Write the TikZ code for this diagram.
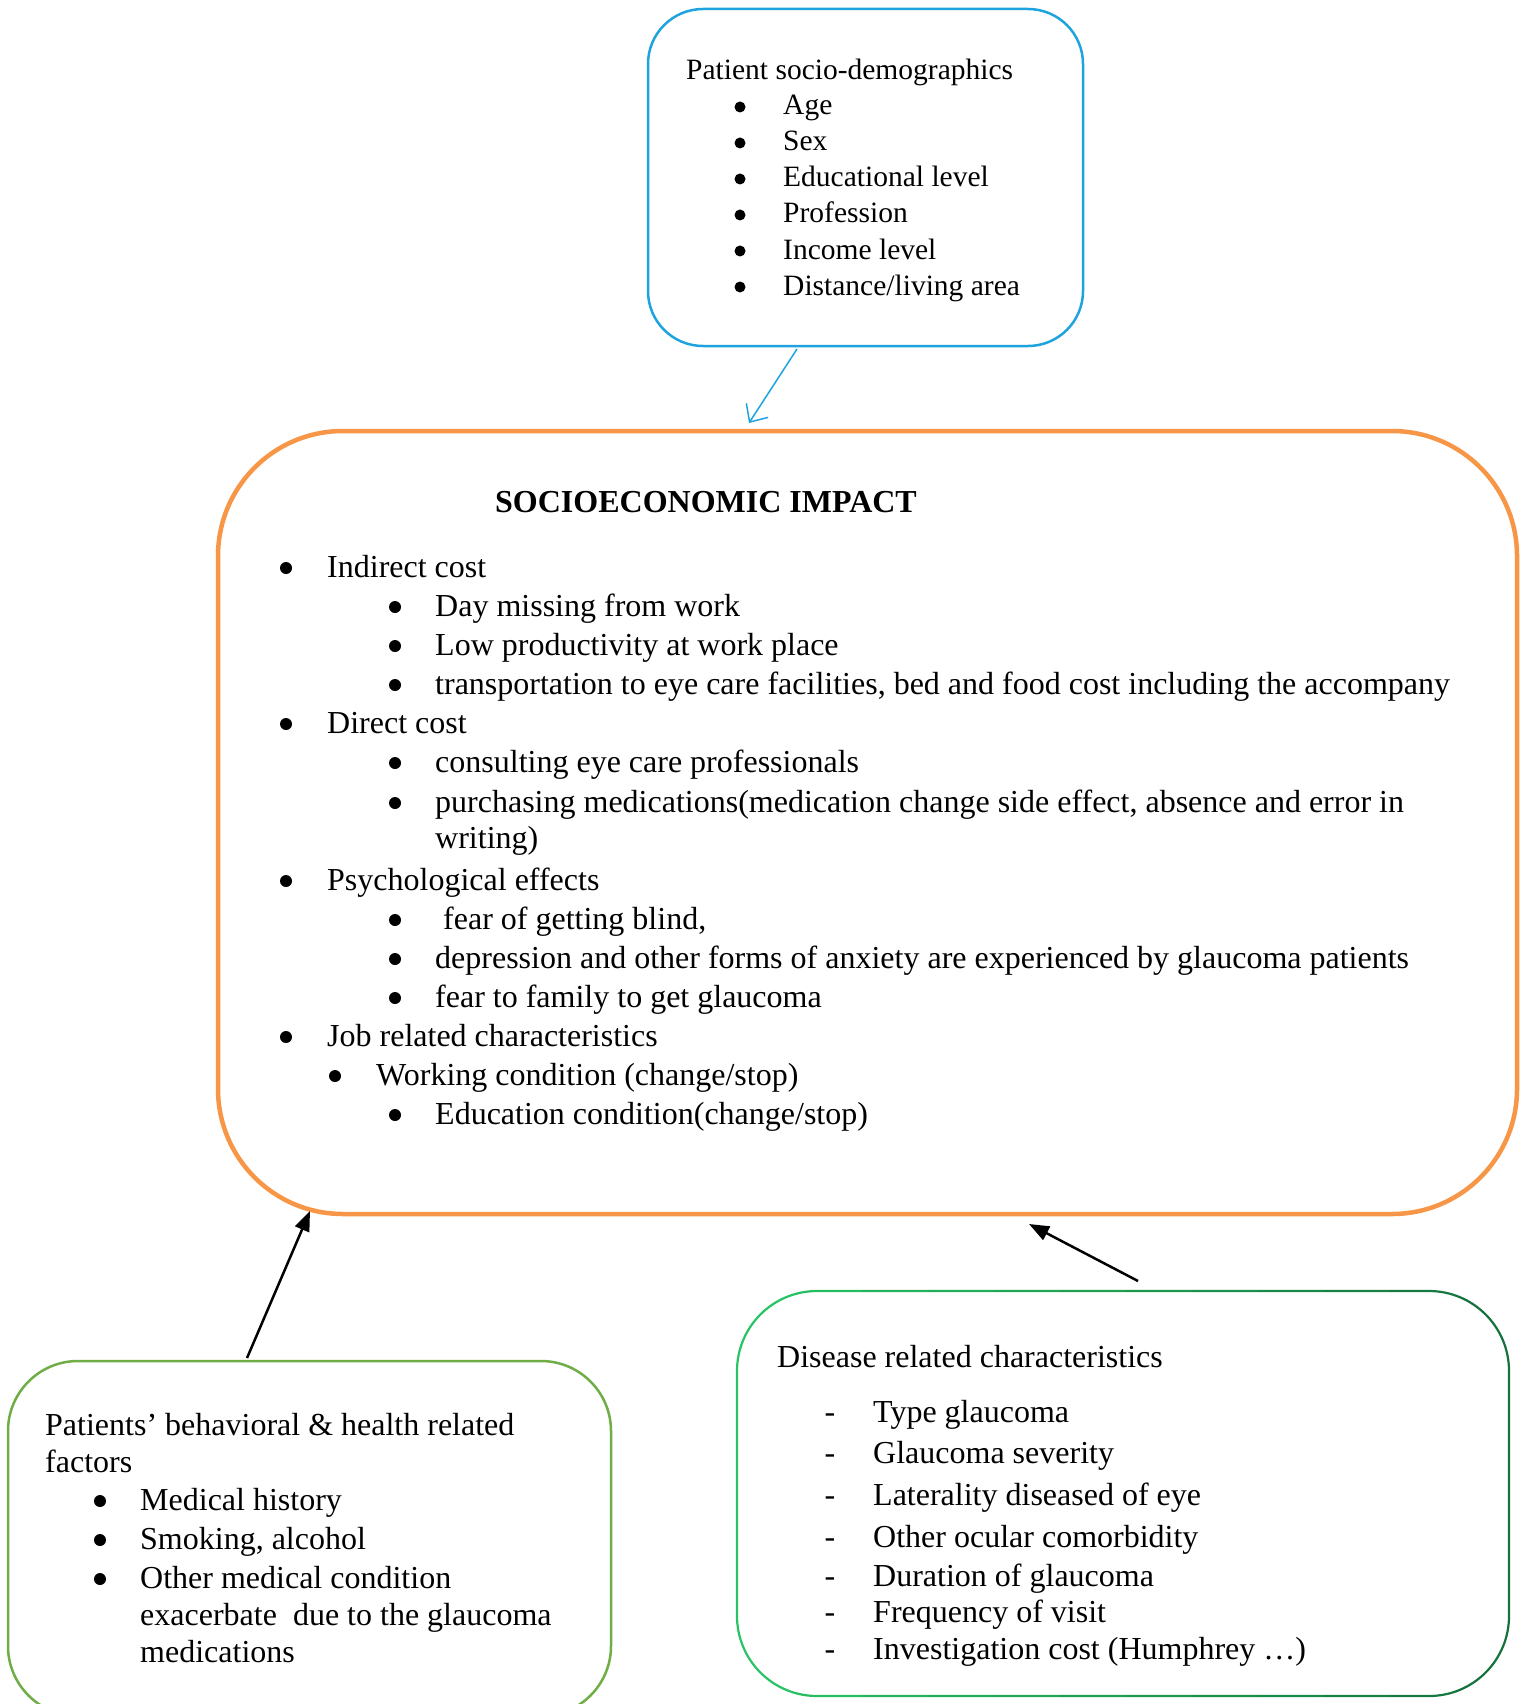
\documentclass[tikz,border=0pt]{standalone}
\usepackage{fontspec}
\setmainfont{Liberation Serif}
\usetikzlibrary{arrows.meta}
\definecolor{cblue}{RGB}{30,163,222}
\definecolor{corange}{RGB}{247,150,70}
\definecolor{cgreenL}{RGB}{112,173,71}
\definecolor{cgreenA}{RGB}{40,195,100}
\definecolor{cgreenB}{RGB}{20,115,60}
\begin{document}
\begin{tikzpicture}[x=1pt,y=-1pt,
  txt/.style={anchor=base west, inner sep=0pt, font=\fontsize{32}{38}\selectfont},
  stxt/.style={anchor=base west, inner sep=0pt, font=\fontsize{29.5}{35}\selectfont},
  bul/.style={anchor=base, inner sep=0pt, font=\fontsize{32}{38}\selectfont},
  dot/.style={circle, fill=black, inner sep=0pt, minimum size=12},
  sdot/.style={circle, fill=black, inner sep=0pt, minimum size=11},
  box/.style={rectangle, anchor=north west, inner sep=0pt, outer sep=0pt},
  blk/.style={draw=black, line width=2.5, -{Triangle[length=20,width=15]}},
]
\useasboundingbox (0,0) rectangle (1526,1704);
\clip (0,0) rectangle (1526,1704);

% ---------- boxes ----------
\node[box, draw=cblue, line width=2.5, rounded corners=55,
  minimum width=435, minimum height=337] (demo) at (648,9) {};
\node[box, draw=corange, line width=4.5, rounded corners=125,
  minimum width=1299, minimum height=783] (impact) at (218,431) {};
\node[box, draw=cgreenL, line width=2.5, rounded corners=70,
  minimum width=603, minimum height=355] (behav) at (8,1361) {};
\node[box, minimum width=772, minimum height=405] (disease) at (737,1291) {};
\foreach \i in {0,...,11}{
  \pgfmathsetmacro\p{\i*100/11}
  \begin{scope}
    \clip (730+\i*66,1280) rectangle ++(66,430);
    \draw[color=cgreenB!\p!cgreenA, line width=2.2, rounded corners=80]
      (disease.north west) rectangle (disease.south east);
  \end{scope}
}

% ---------- connectors ----------
\coordinate (bs) at (797,349);
\coordinate (be) at (749,423);
\draw[cblue, line width=1.5, -{Straight Barb[length=14,width=26]}] (bs) -- (be);
\coordinate (ls) at (247,1358);
\coordinate (le) at (310,1211);
\draw[blk] (ls) -- (le);
\coordinate (rs) at (1138,1281);
\coordinate (re) at (1029,1224);
\draw[blk] (rs) -- (re);

% ---------- demographics text ----------
\node[stxt] (d0) at (686,80) {Patient socio-demographics};
\foreach \y/\t [count=\n] in {115/Age,151/Sex,187/Educational level,223/Profession,259/Income level,295/Distance\slash living area}{
  \node[sdot] (db\n) at (740,\y-8) {};
  \node[stxt] (dt\n) at (783,\y) {\t};
}

% ---------- impact text ----------
\node[txt, font=\fontsize{32}{38}\selectfont\bfseries] (title) at (495,512) {SOCIOECONOMIC IMPACT};
\node[dot] (ib0) at (286,568) {};
\node[txt] (it0) at (327,577) {Indirect cost};
\node[dot] (ib1) at (395,607) {};
\node[txt] (it1) at (435,616) {Day missing from work};
\node[dot] (ib2) at (395,646) {};
\node[txt] (it2) at (435,655) {Low productivity at work place};
\node[dot] (ib3) at (395,685) {};
\node[txt] (it3) at (435,694) {transportation to eye care facilities, bed and food cost including the accompany};
\node[dot] (ib4) at (286,724) {};
\node[txt] (it4) at (327,733) {Direct cost};
\node[dot] (ib5) at (395,763) {};
\node[txt] (it5) at (435,772) {consulting eye care professionals};
\node[dot] (ib6) at (395,803) {};
\node[txt] (it6) at (435,812) {purchasing medications(medication change side effect, absence and error in};
\node[txt] (it7) at (435,848) {writing)};
\node[dot] (ib8) at (286,881) {};
\node[txt] (it8) at (327,890) {Psychological effects};
\node[dot] (ib9) at (395,920) {};
\node[txt] (it9) at (443,929) {fear of getting blind,};
\node[dot] (ib10) at (395,959) {};
\node[txt] (it10) at (435,968) {depression and other forms of anxiety are experienced by glaucoma patients};
\node[dot] (ib11) at (395,998) {};
\node[txt] (it11) at (435,1007) {fear to family to get glaucoma};
\node[dot] (ib12) at (286,1037) {};
\node[txt] (it12) at (327,1046) {Job related characteristics};
\node[dot] (ib13) at (335,1076) {};
\node[txt] (it13) at (376,1085) {Working condition (change/stop)};
\node[dot] (ib14) at (395,1115) {};
\node[txt] (it14) at (435,1124) {Education condition(change/stop)};

% ---------- behavioural text ----------
\node[txt] (b0) at (45,1435) {Patients’ behavioral \& health related};
\node[txt] (b0b) at (45,1472) {factors};
\node[dot] (bb1) at (100,1501) {};
\node[txt] (bt1) at (140,1510) {Medical history};
\node[dot] (bb2) at (100,1540) {};
\node[txt] (bt2) at (140,1549) {Smoking, alcohol};
\node[dot] (bb3) at (100,1579) {};
\node[txt] (bt3) at (140,1588) {Other medical condition};
\node[txt] (bt4) at (140,1625) {exacerbate\ \ due to the glaucoma};
\node[txt] (bt5) at (140,1662) {medications};

% ---------- disease text ----------
\node[txt] (s0) at (777,1367) {Disease related characteristics};
\foreach \y/\t [count=\n] in {1422/Type glaucoma,1463/Glaucoma severity,1505/Laterality diseased of eye,1547/Other ocular comorbidity,1586/Duration of glaucoma,1622/Frequency of visit,1659/Investigation cost (Humphrey …)}{
  \node[bul] (sb\n) at (830,\y) {-};
  \node[txt] (st\n) at (873,\y) {\t};
}
\end{tikzpicture}
\end{document}
